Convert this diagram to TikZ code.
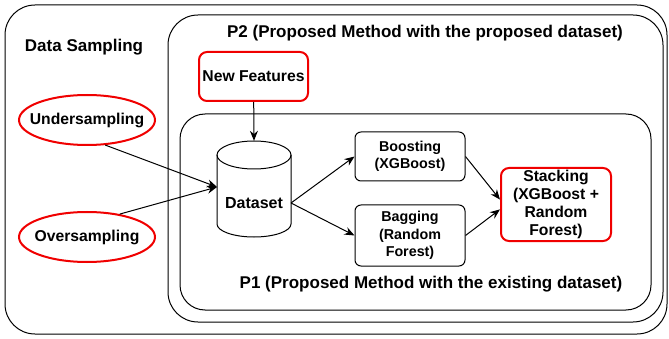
\documentclass[tikz,border=0pt]{standalone}
\usepackage{fontspec}
\setmainfont{Liberation Sans}
\usetikzlibrary{arrows.meta,shapes.geometric}
\definecolor{bred}{RGB}{240,0,0}
\tikzset{
  frame/.style={draw=black,line width=1pt},
  title/.style={font=\bfseries\fontsize{17}{20}\selectfont,inner sep=0pt},
  redbox/.style={draw=bred,line width=2pt,rounded corners=8pt,align=center,font=\bfseries\fontsize{15.7}{18}\selectfont,inner sep=0pt},
  blkbox/.style={draw=black,line width=1pt,rounded corners=6pt,align=center,font=\bfseries\fontsize{14.3}{17.5}\selectfont,inner sep=0pt,minimum width=110pt},
  redell/.style={ellipse,draw=bred,line width=2pt,inner sep=0pt,minimum width=136pt,minimum height=50pt},
  elltext/.style={font=\bfseries\fontsize{15.7}{18}\selectfont,inner sep=0pt},
  conn/.style={draw=black,line width=1pt,-{Stealth[length=10pt,width=8pt]}},
}
\begin{document}
\begin{tikzpicture}[x=1pt,y=-1pt]
\useasboundingbox (0,0) rectangle (669,339);
% frames
\draw[frame,rounded corners=30pt] (5,5) rectangle (667,334);
\draw[frame,rounded corners=30pt] (168,15) rectangle (663,322);
\draw[frame,rounded corners=25pt] (180,114) rectangle (651,310);
% titles
\node[title] (ds) at (84,47) {Data Sampling};
\node[title] (p2) at (425,33) {P2 (Proposed Method with the proposed dataset)};
\node[title] (p1) at (431,284) {P1 (Proposed Method with the existing dataset)};
% ellipses
\node[redell,label={[elltext]center:Undersampling}] (under) at (87,120) {};
\node[redell,label={[elltext]center:Oversampling}] (over) at (87,237) {};
% new features
\node[redbox,minimum width=109pt,minimum height=49pt] (newf) at (253.5,76.5) {New Features};
% dataset cylinder
\node[minimum width=74pt,minimum height=96pt,inner sep=0pt] (dataset) at (254,189) {};
\draw[line width=1pt,fill=white] (217,155) -- (217,224) arc[start angle=180,end angle=360,x radius=37pt,y radius=13pt] -- (291,155);
\draw[line width=1pt] (254,155) ellipse[x radius=37pt,y radius=14pt];
\node[font=\bfseries\fontsize{16}{18}\selectfont,inner sep=0pt] (dslabel) at (254,203) {Dataset};
\coordinate (dsout) at (291,203);
\coordinate (dsin) at (217,187);
% boxes
\node[blkbox,minimum height=49pt] (boost) at (410,156.5) {Boosting\\(XGBoost)};
\node[blkbox,minimum height=61pt] (bag) at (410,235.5) {Bagging\\(Random\\Forest)};
\node[redbox,minimum width=110pt,minimum height=73pt] (stack) at (556,204.5) {Stacking\\(XGBoost +\\Random\\Forest)};
% connectors
\draw[conn] (newf) -- (dataset.north);
\draw[conn] (under.-54) -- (dsin);
\draw[conn] (over.35) -- (dsin);
\draw[conn] (dsout) -- (boost.west);
\draw[conn] (dsout) -- (bag.west);
\draw[conn] (boost.east) -- (stack.175);
\draw[conn] (bag.east) -- (stack.185);
\end{tikzpicture}
\end{document}
